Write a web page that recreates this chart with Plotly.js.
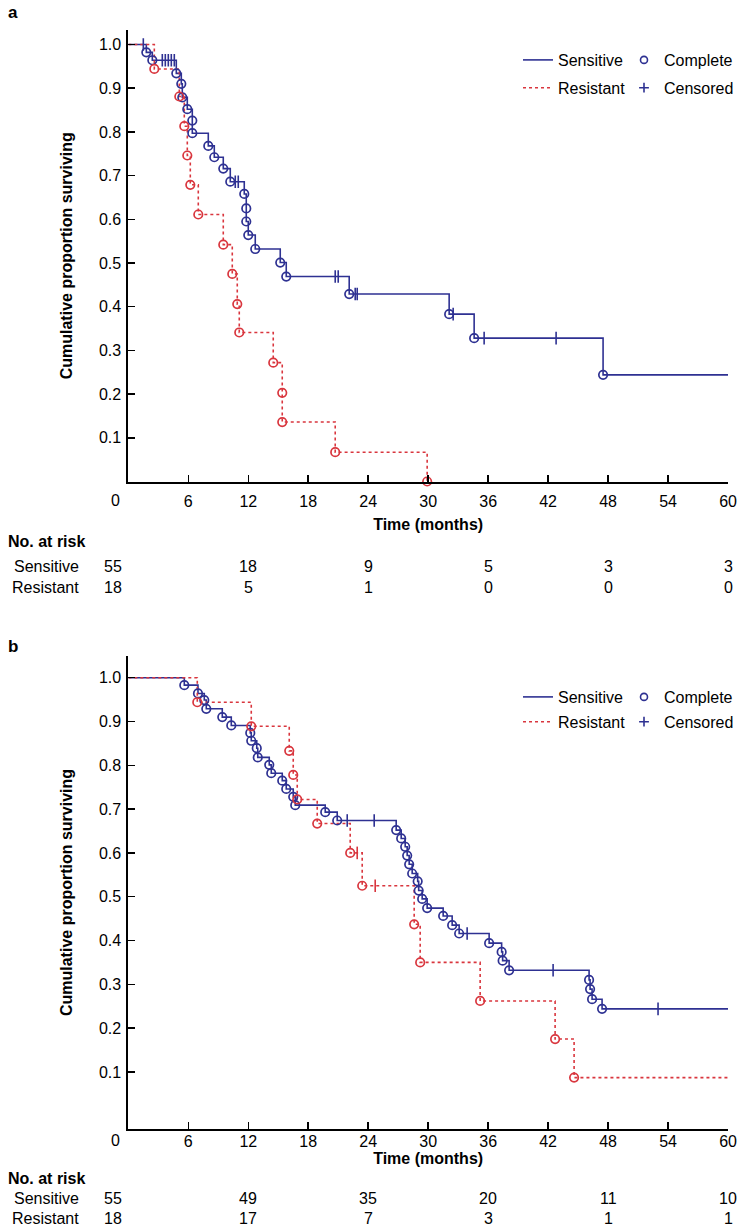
<!DOCTYPE html>
<html><head><meta charset="utf-8">
<script src="https://cdn.plot.ly/plotly-3.0.1.min.js"></script>
<style>html,body{margin:0;padding:0;background:#fff}#chart{width:739px;height:1227px}</style>
</head><body><div id="chart"></div>
<script>
// ---------- Panel a data ----------
const aSensEvT = [1.8, 2.4, 4.8, 5.3, 5.4, 5.9, 6.4, 6.4, 8.0, 8.6, 9.5, 10.2, 11.6, 11.8, 11.8, 12.0, 12.7, 15.2, 15.8, 22.1, 32.1, 34.6, 47.5];
const aSensEvS = [0.982, 0.964, 0.934, 0.910, 0.879, 0.852, 0.826, 0.797, 0.768, 0.742, 0.716, 0.686, 0.658, 0.625, 0.595, 0.564, 0.532, 0.501, 0.469, 0.429, 0.383, 0.328, 0.244];
const aSensCensT = [1.5, 3.4, 3.7, 4.0, 4.3, 4.6, 10.7, 11.0, 20.7, 21.0, 22.7, 22.9, 32.5, 35.6, 42.8];
const aSensCensS = [1.0, 0.964, 0.964, 0.964, 0.964, 0.964, 0.686, 0.686, 0.469, 0.469, 0.429, 0.429, 0.383, 0.328, 0.328];
const aSensEnd = 60;
const aResEvT = [2.6, 5.1, 5.6, 5.9, 6.2, 7.0, 9.5, 10.4, 10.9, 11.1, 14.5, 15.4, 15.4, 20.7, 29.9];
const aResEvS = [0.944, 0.881, 0.813, 0.746, 0.679, 0.611, 0.542, 0.475, 0.406, 0.341, 0.272, 0.203, 0.136, 0.067, 0];
const aResEnd = 29.9;

// ---------- Panel b data ----------
const bSensEvT = [5.6, 6.97, 7.6, 7.8, 9.4, 10.3, 12.2, 12.3, 12.85, 12.95, 14.1, 14.3, 15.4, 15.8, 16.5, 16.7, 19.7, 20.9, 26.8, 27.3, 27.7, 27.9, 28.1, 28.4, 28.95, 29.05, 29.4, 29.9, 31.5, 32.4, 33.1, 36.1, 37.35, 37.45, 38.1, 46.1, 46.2, 46.4, 47.4];
const bSensEvS = [0.983, 0.964, 0.949, 0.929, 0.910, 0.891, 0.874, 0.856, 0.839, 0.818, 0.801, 0.782, 0.765, 0.746, 0.728, 0.709, 0.693, 0.674, 0.652, 0.633, 0.614, 0.594, 0.574, 0.553, 0.535, 0.514, 0.495, 0.474, 0.456, 0.435, 0.416, 0.394, 0.374, 0.354, 0.332, 0.310, 0.289, 0.266, 0.244];
const bSensCensT = [21.9, 24.6, 33.9, 42.5, 53.0];
const bSensCensS = [0.674, 0.674, 0.416, 0.332, 0.244];
const bSensEnd = 60;
const bResEvT = [6.9, 12.3, 16.1, 16.5, 16.9, 18.9, 22.2, 23.4, 28.6, 29.2, 35.2, 42.7, 44.6];
const bResEvS = [0.944, 0.889, 0.833, 0.778, 0.722, 0.667, 0.600, 0.525, 0.437, 0.350, 0.262, 0.175, 0.087];
const bResCensT = [22.9, 24.7];
const bResCensS = [0.600, 0.525];
const bResEnd = 60;

// ---------- Axis ticks and at-risk table ----------
const xTickVals = [0, 6, 12, 18, 24, 30, 36, 42, 48, 54, 60];
const yTickVals = [0.1, 0.2, 0.3, 0.4, 0.5, 0.6, 0.7, 0.8, 0.9, 1.0];
const riskTimes = [0, 12, 24, 36, 48, 60];
const aRiskSens = [55, 18, 9, 5, 3, 3];
const aRiskRes = [18, 5, 1, 0, 0, 0];
const bRiskSens = [55, 49, 35, 20, 11, 10];
const bRiskRes = [18, 17, 7, 3, 1, 1];

const BLUE = '#2e3192', RED = '#d9363e';
const FONT = 'Liberation Sans, Arial, Helvetica, sans-serif';
const FS = 16;
const W = 739, H = 1227;
const px = x => x / W, py = y => 1 - y / H;

function stepTrace(evT, evS, end, xa, ya, color, dash, name, legend) {
  const x = [0].concat(evT), y = [1].concat(evS);
  if (end > evT[evT.length - 1]) { x.push(end); y.push(evS[evS.length - 1]); }
  return {type: 'scatter', mode: 'lines', x, y, xaxis: xa, yaxis: ya, name, legend,
    legendgroup: name + legend, showlegend: true,
    line: {color, width: 1.6, dash, shape: 'hv'}, hoverinfo: 'skip'};
}
function evTrace(t, s, xa, ya, color) {
  return {type: 'scatter', mode: 'markers', x: t, y: s, xaxis: xa, yaxis: ya, showlegend: false,
    cliponaxis: false, marker: {symbol: 'circle-open', size: 8.5, color, line: {width: 1.7, color}}, hoverinfo: 'skip'};
}
function censTrace(t, s, xa, ya, color) {
  return {type: 'scatter', mode: 'markers', x: t, y: s, xaxis: xa, yaxis: ya, showlegend: false,
    marker: {symbol: 'line-ns-open', size: 9, color, line: {width: 1.6, color}}, hoverinfo: 'skip'};
}
function legendMarker(name, symbol, legend, xa, ya) {
  return {type: 'scatter', mode: 'markers', x: [null], y: [null], xaxis: xa, yaxis: ya, name, legend,
    legendgroup: name + legend, showlegend: true,
    marker: {symbol, size: 7, color: BLUE, line: {width: 1.6, color: BLUE}}};
}

const data = [
  stepTrace(aSensEvT, aSensEvS, aSensEnd, 'x', 'y', BLUE, 'solid', 'Sensitive', 'legend'),
  stepTrace(aResEvT, aResEvS, aResEnd, 'x', 'y', RED, 'dot', 'Resistant', 'legend'),
  evTrace(aSensEvT, aSensEvS, 'x', 'y', BLUE),
  evTrace(aResEvT, aResEvS, 'x', 'y', RED),
  censTrace(aSensCensT, aSensCensS, 'x', 'y', BLUE),
  legendMarker('Complete', 'circle-open', 'legend2', 'x', 'y'),
  legendMarker('Censored', 'cross-thin-open', 'legend2', 'x', 'y'),

  stepTrace(bSensEvT, bSensEvS, bSensEnd, 'x2', 'y2', BLUE, 'solid', 'Sensitive', 'legend3'),
  stepTrace(bResEvT, bResEvS, bResEnd, 'x2', 'y2', RED, 'dot', 'Resistant', 'legend3'),
  evTrace(bSensEvT, bSensEvS, 'x2', 'y2', BLUE),
  evTrace(bResEvT, bResEvS, 'x2', 'y2', RED),
  censTrace(bSensCensT, bSensCensS, 'x2', 'y2', BLUE),
  censTrace(bResCensT, bResCensS, 'x2', 'y2', RED),
  legendMarker('Complete', 'circle-open', 'legend4', 'x2', 'y2'),
  legendMarker('Censored', 'cross-thin-open', 'legend4', 'x2', 'y2')
];

const xDom = [px(128.5), px(729)];
function xAxis(anchor, lblStand, titleStand) {
  return {domain: xDom, range: [0, 60], anchor, showline: true, linecolor: '#000', linewidth: 2,
    ticks: 'inside', ticklen: 7, tickwidth: 1.5, tickcolor: '#000', showgrid: false, zeroline: false,
    tickvals: xTickVals, ticktext: xTickVals.map(v => v === 0 ? '' : String(v)),
    tickfont: {family: FONT, size: FS, color: '#000'}, ticklabelstandoff: lblStand,
    title: {text: '<b>Time (months)</b>', font: {family: FONT, size: FS, color: '#000'}, standoff: titleStand}};
}
function yAxis(anchor, dom, range) {
  return {domain: dom, range, anchor, showline: true, linecolor: '#000', linewidth: 2,
    ticks: 'inside', ticklen: 7, tickwidth: 1.5, tickcolor: '#000', showgrid: false, zeroline: false,
    tickvals: yTickVals, tickformat: '.1f',
    tickfont: {family: FONT, size: FS, color: '#000'}, ticklabelstandoff: 2,
    title: {text: '<b>Cumulative proportion surviving</b>', font: {family: FONT, size: FS, color: '#000'}, standoff: 22}};
}

const legFont = {family: FONT, size: FS, color: '#000'};
function leg(x, y, gap) {
  return {x: px(x), y: py(y), xanchor: 'left', yanchor: 'top', bgcolor: 'rgba(0,0,0,0)',
    font: legFont, itemwidth: 30, tracegroupgap: gap, traceorder: 'grouped'};
}

const ann = [];
function txt(text, x, y, opts) {
  ann.push(Object.assign({text, x: px(x), y: py(y), xref: 'paper', yref: 'paper', showarrow: false,
    font: {family: FONT, size: FS, color: '#000'}, xanchor: 'center', yanchor: 'middle'}, opts || {}));
}
txt('<b>a</b>', 6, 12, {xanchor: 'left', font: {family: FONT, size: 17, color: '#000'}});
txt('<b>b</b>', 6, 646, {xanchor: 'left', font: {family: FONT, size: 17, color: '#000'}});

function riskTable(xa, ya0, yNo, ySens, yRes, sens, res) {
  txt('0', 116, ya0);
  txt('<b>No. at risk</b>', 6, yNo, {xanchor: 'left'});
  txt('Sensitive', 81, ySens, {xanchor: 'right'});
  txt('Resistant', 81, yRes, {xanchor: 'right'});
  riskTimes.forEach((t, i) => {
    const sh = i === 0 ? -15 : 0;
    ann.push({text: String(sens[i]), x: t, xref: xa, y: py(ySens), yref: 'paper', xshift: sh, showarrow: false,
      font: {family: FONT, size: FS, color: '#000'}, xanchor: 'center', yanchor: 'middle'});
    ann.push({text: String(res[i]), x: t, xref: xa, y: py(yRes), yref: 'paper', xshift: sh, showarrow: false,
      font: {family: FONT, size: FS, color: '#000'}, xanchor: 'center', yanchor: 'middle'});
  });
}
riskTable('x', 500, 542, 566, 587, aRiskSens, aRiskRes);
riskTable('x2', 1140, 1178, 1198, 1218, bRiskSens, bRiskRes);

const layout = {
  width: W, height: H, margin: {l: 0, r: 0, t: 0, b: 0}, paper_bgcolor: '#fff', plot_bgcolor: '#fff',
  font: {family: FONT, size: FS, color: '#000'},
  xaxis: xAxis('y', 4, 10),
  yaxis: yAxis('x', [py(481.5), py(30)], [0, (481.5 - 30) / 437]),
  xaxis2: xAxis('y2', -3, 4),
  yaxis2: yAxis('x2', [py(1129), py(656)], [-(1129 - 1115.7) / 438, (1115.7 - 656) / 438]),
  legend: leg(518, 43, 4),
  legend2: leg(625, 43, 4),
  legend3: leg(518, 680, 1),
  legend4: leg(625, 680, 1),
  annotations: ann
};

Plotly.newPlot('chart', data, layout, {staticPlot: true, displayModeBar: false});
</script>
</body></html>
